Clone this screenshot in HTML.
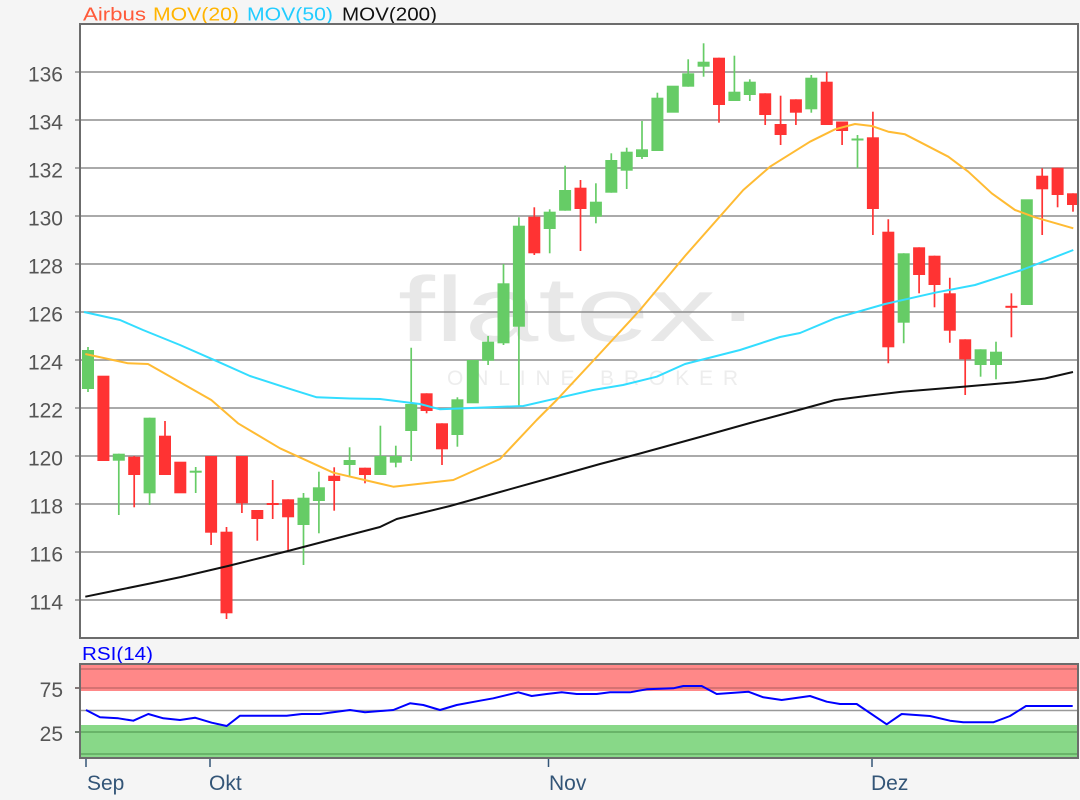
<!DOCTYPE html>
<html><head><meta charset="utf-8"><style>
html,body{margin:0;padding:0;background:#f5f5f5;}
svg{display:block;}
text{font-family:"Liberation Sans",Arial,sans-serif;}
</style></head><body>
<svg width="1080" height="800" viewBox="0 0 1080 800" xmlns="http://www.w3.org/2000/svg">
<defs>
<clipPath id="pc"><rect x="81" y="25" width="996" height="613"/></clipPath>
<clipPath id="rc"><rect x="81" y="665" width="996" height="92"/></clipPath>
</defs>
<rect x="0" y="0" width="1080" height="800" fill="#f5f5f5"/>
<!-- title -->
<text x="83" y="20.5" font-size="18" fill="#ff5a3a" textLength="63" lengthAdjust="spacingAndGlyphs">Airbus</text>
<text x="153" y="20.5" font-size="18" fill="#ffb400" textLength="86" lengthAdjust="spacingAndGlyphs">MOV(20)</text>
<text x="247" y="20.5" font-size="18" fill="#22ccff" textLength="86" lengthAdjust="spacingAndGlyphs">MOV(50)</text>
<text x="342" y="20.5" font-size="18" fill="#111" textLength="95" lengthAdjust="spacingAndGlyphs">MOV(200)</text>

<!-- main plot -->
<rect x="80" y="24" width="998" height="614" fill="#fff"/>
<g clip-path="url(#pc)">
<text x="398" y="341" font-size="92" fill="#e8e8e8" textLength="362" lengthAdjust="spacingAndGlyphs">flatex·</text>
<text x="447" y="385" font-size="21" fill="#ededed" textLength="291" lengthAdjust="spacing">ONLINE BROKER</text>
</g>
<g stroke="#8e8e8e" stroke-width="1.5">
<line x1="75" y1="72" x2="1078" y2="72"/>
<line x1="75" y1="120" x2="1078" y2="120"/>
<line x1="75" y1="168" x2="1078" y2="168"/>
<line x1="75" y1="216" x2="1078" y2="216"/>
<line x1="75" y1="264" x2="1078" y2="264"/>
<line x1="75" y1="312" x2="1078" y2="312"/>
<line x1="75" y1="360" x2="1078" y2="360"/>
<line x1="75" y1="408" x2="1078" y2="408"/>
<line x1="75" y1="456" x2="1078" y2="456"/>
<line x1="75" y1="504" x2="1078" y2="504"/>
<line x1="75" y1="552" x2="1078" y2="552"/>
<line x1="75" y1="600" x2="1078" y2="600"/>
</g>
<g font-size="21" fill="#555" text-anchor="end">
<text x="63" y="81.5">136</text>
<text x="63" y="129.5">134</text>
<text x="63" y="177.5">132</text>
<text x="63" y="225.5">130</text>
<text x="63" y="273.5">128</text>
<text x="63" y="321.5">126</text>
<text x="63" y="369.5">124</text>
<text x="63" y="417.5">122</text>
<text x="63" y="465.5">120</text>
<text x="63" y="513.5">118</text>
<text x="63" y="561.5">116</text>
<text x="63" y="609.5">114</text>
</g>

<g clip-path="url(#pc)">
<!-- red wicks -->
<g stroke="#ff3333" stroke-width="1.7">
<line x1="134.2" y1="456" x2="134.2" y2="507.3"/>
<line x1="165" y1="421" x2="165" y2="475"/>
<line x1="211.1" y1="456" x2="211.1" y2="545"/>
<line x1="226.5" y1="527" x2="226.5" y2="619"/>
<line x1="241.9" y1="456" x2="241.9" y2="513"/>
<line x1="257.3" y1="510" x2="257.3" y2="540.7"/>
<line x1="272.7" y1="480" x2="272.7" y2="519"/>
<line x1="288.1" y1="499.3" x2="288.1" y2="551.7"/>
<line x1="334.2" y1="467.3" x2="334.2" y2="510.7"/>
<line x1="365" y1="467.7" x2="365" y2="483.3"/>
<line x1="426.6" y1="393.3" x2="426.6" y2="413.3"/>
<line x1="442" y1="423.3" x2="442" y2="465"/>
<line x1="534.3" y1="207.3" x2="534.3" y2="255"/>
<line x1="580.5" y1="180" x2="580.5" y2="251"/>
<line x1="719" y1="57.7" x2="719" y2="122.7"/>
<line x1="765.2" y1="93.3" x2="765.2" y2="125"/>
<line x1="780.6" y1="95.7" x2="780.6" y2="145"/>
<line x1="795.9" y1="99.3" x2="795.9" y2="125"/>
<line x1="826.7" y1="71.7" x2="826.7" y2="125"/>
<line x1="842.1" y1="121.5" x2="842.1" y2="145"/>
<line x1="872.9" y1="111.7" x2="872.9" y2="235"/>
<line x1="888.3" y1="219.3" x2="888.3" y2="363.3"/>
<line x1="919.1" y1="247.3" x2="919.1" y2="293.3"/>
<line x1="934.5" y1="255.7" x2="934.5" y2="307.3"/>
<line x1="949.8" y1="277.7" x2="949.8" y2="342.7"/>
<line x1="965.2" y1="339.3" x2="965.2" y2="395"/>
<line x1="1011.4" y1="293.3" x2="1011.4" y2="337.3"/>
<line x1="1042.2" y1="168.3" x2="1042.2" y2="235"/>
<line x1="1057.6" y1="167.7" x2="1057.6" y2="207.3"/>
<line x1="1073" y1="193.3" x2="1073" y2="211.7"/>
</g>
<!-- red bodies -->
<g fill="#ff3333">
<rect x="97.4" y="375.7" width="12" height="85.3"/>
<rect x="128.2" y="456.7" width="12" height="18.3"/>
<rect x="159" y="435.7" width="12" height="39.3"/>
<rect x="174.3" y="461.7" width="12" height="31.6"/>
<rect x="205.1" y="456" width="12" height="76.7"/>
<rect x="220.5" y="531.7" width="12" height="81.6"/>
<rect x="235.9" y="456" width="12" height="47.3"/>
<rect x="251.3" y="510" width="12" height="9"/>
<rect x="266.7" y="503" width="12" height="2"/>
<rect x="282.1" y="499.3" width="12" height="18"/>
<rect x="328.2" y="475.7" width="12" height="5.3"/>
<rect x="359" y="467.7" width="12" height="7.3"/>
<rect x="420.6" y="393.3" width="12" height="17.7"/>
<rect x="436" y="423.3" width="12" height="26"/>
<rect x="528.3" y="216.7" width="12" height="36.6"/>
<rect x="574.5" y="187.7" width="12" height="21.3"/>
<rect x="713" y="57.7" width="12" height="47.3"/>
<rect x="759.2" y="93.3" width="12" height="21.7"/>
<rect x="774.6" y="124" width="12" height="11"/>
<rect x="789.9" y="99.3" width="12" height="13.4"/>
<rect x="820.7" y="81.7" width="12" height="43.3"/>
<rect x="836.1" y="121.5" width="12" height="9.5"/>
<rect x="866.9" y="137.3" width="12" height="71.7"/>
<rect x="882.3" y="231.7" width="12" height="115.6"/>
<rect x="913.1" y="247.3" width="12" height="27.7"/>
<rect x="928.5" y="255.7" width="12" height="29.3"/>
<rect x="943.8" y="293.3" width="12" height="37.4"/>
<rect x="959.2" y="339.3" width="12" height="20"/>
<rect x="1005.4" y="305.8" width="12" height="2"/>
<rect x="1036.2" y="175.7" width="12" height="13.6"/>
<rect x="1051.6" y="167.7" width="12" height="27.3"/>
<rect x="1067" y="193.3" width="12" height="11.7"/>
</g>
<!-- green wicks -->
<g stroke="#66cc66" stroke-width="1.7">
<line x1="88" y1="347" x2="88" y2="392"/>
<line x1="118.8" y1="453.7" x2="118.8" y2="515"/>
<line x1="149.6" y1="417.7" x2="149.6" y2="505"/>
<line x1="195.7" y1="467" x2="195.7" y2="493"/>
<line x1="303.5" y1="493" x2="303.5" y2="565"/>
<line x1="318.9" y1="471.7" x2="318.9" y2="533.3"/>
<line x1="349.6" y1="447.3" x2="349.6" y2="477.3"/>
<line x1="380.4" y1="425.7" x2="380.4" y2="475"/>
<line x1="395.8" y1="445.7" x2="395.8" y2="467.3"/>
<line x1="411.2" y1="347.7" x2="411.2" y2="461"/>
<line x1="457.4" y1="397.3" x2="457.4" y2="446.7"/>
<line x1="488.1" y1="336" x2="488.1" y2="365"/>
<line x1="503.5" y1="264" x2="503.5" y2="345"/>
<line x1="518.9" y1="217.3" x2="518.9" y2="406.7"/>
<line x1="549.7" y1="209.3" x2="549.7" y2="253.3"/>
<line x1="565.1" y1="165.7" x2="565.1" y2="210.7"/>
<line x1="595.9" y1="183.3" x2="595.9" y2="223.3"/>
<line x1="611.3" y1="153.3" x2="611.3" y2="192.7"/>
<line x1="626.7" y1="147.7" x2="626.7" y2="189"/>
<line x1="642" y1="121" x2="642" y2="159"/>
<line x1="657.4" y1="92.7" x2="657.4" y2="151"/>
<line x1="688.2" y1="59.3" x2="688.2" y2="86.7"/>
<line x1="703.6" y1="43.3" x2="703.6" y2="76.7"/>
<line x1="734.4" y1="55.7" x2="734.4" y2="101"/>
<line x1="749.8" y1="79.3" x2="749.8" y2="101"/>
<line x1="811.3" y1="75" x2="811.3" y2="112.7"/>
<line x1="857.5" y1="135" x2="857.5" y2="168.3"/>
<line x1="903.7" y1="253.3" x2="903.7" y2="343.3"/>
<line x1="980.6" y1="349.3" x2="980.6" y2="376.7"/>
<line x1="996" y1="341.7" x2="996" y2="379.3"/>
</g>
<!-- green bodies -->
<g fill="#66cc66">
<rect x="82" y="350" width="12" height="39"/>
<rect x="112.8" y="453.7" width="12" height="7"/>
<rect x="143.6" y="417.7" width="12" height="75.6"/>
<rect x="189.7" y="470.7" width="12" height="2"/>
<rect x="297.5" y="497.7" width="12" height="27.3"/>
<rect x="312.9" y="487.3" width="12" height="13.7"/>
<rect x="343.6" y="460" width="12" height="5"/>
<rect x="374.4" y="456" width="12" height="19"/>
<rect x="389.8" y="456" width="12" height="6.7"/>
<rect x="405.2" y="404" width="12" height="27"/>
<rect x="451.4" y="399.3" width="12" height="35.7"/>
<rect x="466.8" y="360" width="12" height="43.3"/>
<rect x="482.1" y="341.7" width="12" height="19"/>
<rect x="497.5" y="283.3" width="12" height="60"/>
<rect x="512.9" y="225.7" width="12" height="101"/>
<rect x="543.7" y="211.7" width="12" height="17.3"/>
<rect x="559.1" y="190" width="12" height="20.7"/>
<rect x="589.9" y="201.7" width="12" height="15"/>
<rect x="605.3" y="160" width="12" height="32.7"/>
<rect x="620.7" y="151.7" width="12" height="19"/>
<rect x="636" y="149.3" width="12" height="7.7"/>
<rect x="651.4" y="97.7" width="12" height="53.3"/>
<rect x="666.8" y="85.7" width="12" height="27"/>
<rect x="682.2" y="73.3" width="12" height="13.4"/>
<rect x="697.6" y="61.7" width="12" height="5"/>
<rect x="728.4" y="91.7" width="12" height="9.3"/>
<rect x="743.8" y="81.7" width="12" height="13.3"/>
<rect x="805.3" y="77.7" width="12" height="31.6"/>
<rect x="851.5" y="138.5" width="12" height="2"/>
<rect x="897.7" y="253.3" width="12" height="69.4"/>
<rect x="974.6" y="349.3" width="12" height="15.7"/>
<rect x="990" y="351.7" width="12" height="13.3"/>
<rect x="1020.8" y="199.3" width="12" height="105.7"/>
</g>
<!-- moving averages -->
<polyline fill="none" stroke="#111" stroke-width="2" stroke-linejoin="round" points="85.3,596.7 118,590 150,583.5 181,577 228,566 260,558 288,551 330,540 380,527 396.7,519 450,506 500,492 552,477.5 600,464 640,453.5 700,437 750,423 800,409.6 835,400 870,395.5 901.7,391.7 963,386.7 1015,382.3 1045,378.5 1073,372"/>
<polyline fill="none" stroke="#33ddff" stroke-width="2" stroke-linejoin="round" points="84,312 120,320 143,330 180,345 218,361.7 250,376 288,388.3 316.7,397.3 350,398.5 380,399 420,404 440,409.3 490,407.3 523.3,406 556.7,398.3 593,390 623,385 656.7,376.7 685,364 740,350 780,337 800,333 835,318.3 885,304 935,292.7 975,285 1021.7,270 1073.3,250"/>
<polyline fill="none" stroke="#ffbb33" stroke-width="2" stroke-linejoin="round" points="85.3,354 128,363.3 148,364 188,386.7 211.3,400 238,423.3 280,448.3 333.3,472.7 393.3,486.7 453.3,480 500,459 536.7,420 556.7,400 596.7,357 640,310 685,256 743.3,190 770,166.7 810,141.7 835,129.3 855,124 871.7,126 888.3,131.7 905,134.3 948.3,156.7 968.3,171.7 991.7,193.3 1015,210 1035,217.3 1073.3,228.3"/>
</g>
<rect x="80" y="24" width="998" height="614" fill="none" stroke="#6c6c6c" stroke-width="2"/>

<!-- RSI panel -->
<text x="82" y="660" font-size="18" fill="#0000ff" textLength="71" lengthAdjust="spacingAndGlyphs">RSI(14)</text>
<rect x="80" y="664" width="998" height="94" fill="#fff"/>
<rect x="80" y="665" width="998" height="26" fill="#ff8888"/>
<rect x="80" y="725" width="998" height="32" fill="#88d888"/>
<g stroke-width="1.5">
<line x1="80" y1="669" x2="1078" y2="669" stroke="#c96a6a"/>
<line x1="75" y1="688" x2="1078" y2="688" stroke="#c96a6a"/>
<line x1="80" y1="710.5" x2="1078" y2="710.5" stroke="#999"/>
<line x1="75" y1="732" x2="1078" y2="732" stroke="#5fa85f"/>
<line x1="80" y1="754" x2="1078" y2="754" stroke="#5fa85f"/>
</g>
<line x1="75" y1="688" x2="80" y2="688" stroke="#666" stroke-width="1.5"/>
<line x1="75" y1="732" x2="80" y2="732" stroke="#666" stroke-width="1.5"/>
<g font-size="21" fill="#555" text-anchor="end">
<text x="63" y="697">75</text>
<text x="63" y="741">25</text>
</g>
<g clip-path="url(#rc)">
<polyline fill="none" stroke="#0000ff" stroke-width="2" stroke-linejoin="round" points="86,710 100,717.3 118.3,718.3 133.3,720.7 148.3,714 163.3,718.3 180,720 195,717.7 211.7,722.7 226.7,726 240,715.7 286.7,715.7 301.7,714 320,714 336.7,711.7 350,710 365,712.3 393.3,710 410,703.3 423.3,705 440,710 456.7,705 480,700.7 493.3,698.3 518.3,692.3 531.7,696 546.7,694 561.7,692.3 576.7,694 596.7,694 610,692.3 630,692.3 646.7,689.3 673.3,688.3 683.3,686 701.7,686 716.7,694 748.3,691.7 763.3,697.3 781.7,700 810,696 826.7,701.7 840,704 856.7,704 886.7,724.3 901.7,714 930,716 950,720.7 963.3,722.3 993.3,722.3 1010,716 1026,706 1072.7,706"/>
</g>
<rect x="80" y="664" width="998" height="94" fill="none" stroke="#6c6c6c" stroke-width="2"/>

<!-- x axis -->
<g stroke="#335577" stroke-width="1.5">
<line x1="86" y1="759" x2="86" y2="767"/>
<line x1="210" y1="759" x2="210" y2="767"/>
<line x1="548.5" y1="759" x2="548.5" y2="767"/>
<line x1="872" y1="759" x2="872" y2="767"/>
</g>
<g font-size="21" fill="#335577">
<text x="87" y="790">Sep</text>
<text x="209" y="790">Okt</text>
<text x="549" y="790">Nov</text>
<text x="871" y="790">Dez</text>
</g>
</svg>
</body></html>
